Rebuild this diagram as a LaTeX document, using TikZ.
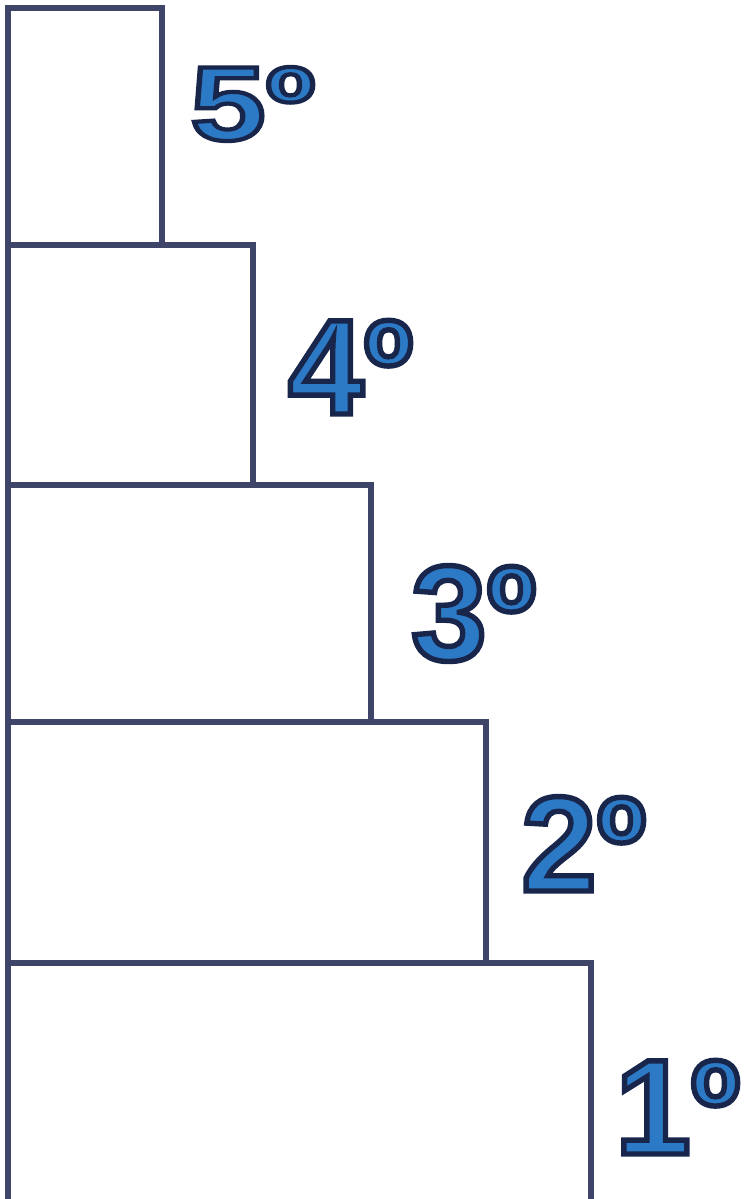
\documentclass[tikz,border=0pt]{standalone}
\usepackage{fontspec}
\usepackage{xcolor}
\newfontfamily\tierfont{Liberation Sans Bold}[FakeBold=4]
\definecolor{frameblue}{RGB}{62,69,105}
\definecolor{labelfill}{RGB}{44,122,198}
% outline colour of the labels, set as stroke colour (0.1 0.15 0.3)
\newcommand{\tiertext}[1]{\textcolor{labelfill}{\special{pdf:literal direct 0.1 0.15 0.3 RG}#1}}
\tikzset{
  tierline/.style={draw=frameblue, line width=2.9pt, line join=miter},
  tierlabel/.style={font=\tierfont\fontsize{77}{80}\selectfont,
                    inner sep=0pt, anchor=base west},
}
\begin{document}
\begin{tikzpicture}[x=0.02cm, y=-0.02cm]
\clip (0,0) rectangle (751,1199);
\fill[white] (0,0) rectangle (751,1199);

% Tiers
\draw[tierline] (8,8) rectangle (162,245);
\draw[tierline] (8,245) rectangle (253,485);
\draw[tierline] (8,485) rectangle (371,722);
\draw[tierline] (8,722) rectangle (486,963);
\draw[tierline] (8,1215) -- (8,963) -- (591,963) -- (591,1215);

% Labels
\node[tierlabel] (lab5) at (190,140) {\scalebox{1}[0.78]{\tiertext{5º}}};
\node[tierlabel] (lab4) at (288,414) {\tiertext{4º}};
\node[tierlabel] (lab3) at (411,660) {\tiertext{3º}};
\node[tierlabel] (lab2) at (521,891) {\tiertext{2º}};
\node[tierlabel] (lab1) at (615,1154) {\tiertext{1º}};

\end{tikzpicture}
\end{document}
